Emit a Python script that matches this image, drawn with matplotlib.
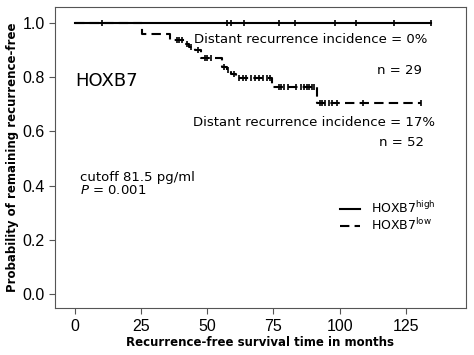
import matplotlib
matplotlib.use("Agg")
import matplotlib.pyplot as plt
import numpy as np

# HOXB7 high group: no events, censored times
high_censor = [10.3, 57.3, 59.1, 63.9, 77.1, 83.2, 98.3, 106.1, 120.4, 134.4]
high_end = 134.4

# HOXB7 low group: step times and survival after each step
low_times = [0, 25.5, 36, 41.5, 43, 45.5, 47.8, 55.4, 57.5, 59, 61, 74.3, 91.3]
low_surv = [1.0, 0.96, 0.936, 0.922, 0.912, 0.90, 0.869, 0.838, 0.825, 0.812, 0.795, 0.764, 0.705]
low_censor = [38.5, 39.5, 40.5, 42.5, 44, 46.5, 49, 50, 51.5, 56.5, 58, 60,
              62, 63.5, 64.8, 66.5, 68, 69.5, 71, 72.5, 73.6,
              77, 78, 79, 80.5, 83.7, 85.5, 86.5, 87.5, 88.5, 89.5, 90.5,
              92.5, 93.5, 94.5, 96, 97, 99, 108.8, 130.9]
low_end = 130.9

xticks = [0, 25, 50, 75, 100, 125]
yticks = [0.0, 0.2, 0.4, 0.6, 0.8, 1.0]

fig = plt.figure(figsize=(4.74, 3.55), dpi=100)
ax = fig.add_axes([0.116, 0.132, 0.867, 0.848])

# high curve
ax.plot([0, high_end], [1.0, 1.0], color='black', lw=1.5, label='HOXB7$^{\\mathregular{high}}$')
ax.plot(high_censor, [1.0] * len(high_censor), ls='none', marker='|', ms=5, mew=1.2, color='black')

# low curve
tx = low_times + [low_end]
sy = low_surv + [low_surv[-1]]
ax.step(tx, sy, where='post', color='black', lw=1.5, dashes=(4.5, 2.5), label='HOXB7$^{\\mathregular{low}}$')
idx = np.searchsorted(low_times, low_censor, side='right') - 1
ax.plot(low_censor, np.array(low_surv)[idx], ls='none', marker='|', ms=5, mew=1.2, color='black')

ax.set_xlim(-7.5, 147.7)
ax.set_ylim(-0.051, 1.058)
ax.set_xticks(xticks)
ax.set_yticks(yticks)
ax.set_yticklabels([f'{v:.1f}' for v in yticks])
ax.tick_params(labelsize=11.5, length=4, color='#555555')
for lab in ax.get_xticklabels() + ax.get_yticklabels():
    lab.set_family('Liberation Sans')
for s in ax.spines.values():
    s.set_color('#555555')

ax.set_xlabel('Recurrence-free survival time in months', fontsize=8.5, fontweight='bold', labelpad=2)
ax.set_ylabel('Probability of remaining recurrence-free', fontsize=8.5, fontweight='bold', labelpad=2)

tf = dict(fontsize=9.5, family='DejaVu Sans')
ax.text(133, 0.938, 'Distant recurrence incidence = 0%', ha='right', va='center', **tf)
ax.text(131, 0.825, 'n = 29', ha='right', va='center', **tf)
ax.text(0, 0.785, 'HOXB7', ha='left', va='center', fontsize=13)
ax.text(136, 0.633, 'Distant recurrence incidence = 17%', ha='right', va='center', **tf)
ax.text(132, 0.561, 'n = 52', ha='right', va='center', **tf)
ax.text(2, 0.432, 'cutoff 81.5 pg/ml', ha='left', va='center', **tf)
ax.text(2, 0.382, '$P$ = 0.001', ha='left', va='center', **tf)

ax.legend(loc='upper left', bbox_to_anchor=(0.665, 0.395), frameon=False, fontsize=9,
          handlelength=1.6, handletextpad=0.9, labelspacing=0.05)

fig.savefig('out.png', dpi=100)
